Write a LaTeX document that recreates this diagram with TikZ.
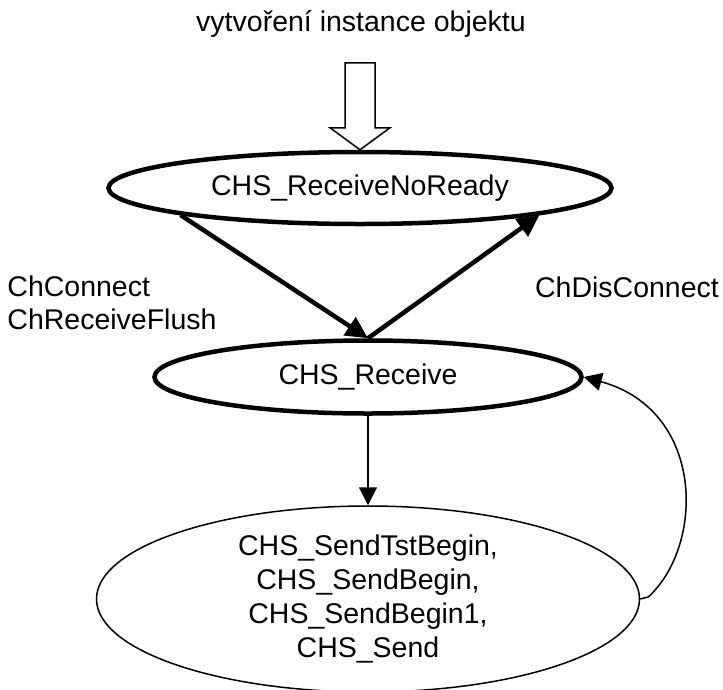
\documentclass[tikz,border=0pt]{standalone}
\usepackage{fontspec}
\setmainfont{Liberation Sans}
\usetikzlibrary{shapes.geometric,arrows.meta}

\begin{document}
\begin{tikzpicture}[x=1pt, y=-1pt,
        every node/.style={font=\fontsize{28.5}{33}\selectfont, inner sep=0pt},
        boldstate/.style={ellipse, draw, line width=4.5pt},
        thinstate/.style={ellipse, draw, line width=1.5pt},
        boldarrow/.style={line width=4.5pt, -{Triangle[length=22pt,width=21pt]}},
        thinarrow/.style={line width=1.5pt, -{Triangle[length=18pt,width=18pt]}}]
        \useasboundingbox (0,0) rectangle (723,689);
        \node (title) at (361,24) {vytvoření instance objektu};
        \node[boldstate, minimum width=503pt, minimum height=72pt] (noready) at (360,188) {CHS\_ReceiveNoReady};
        \node[boldstate, minimum width=427pt, minimum height=73pt] (receive) at (368,377) {CHS\_Receive};
        \node[thinstate, minimum width=543pt, minimum height=186pt, align=center,
            font=\fontsize{28.5}{34}\selectfont] (send) at (368,599)
            {CHS\_SendTstBegin,\\CHS\_SendBegin,\\CHS\_SendBegin1,\\CHS\_Send};
        \node[align=left] (connect) at (112,303) {ChConnect\\ChReceiveFlush};
        \node (disconnect) at (627,287) {ChDisConnect};
        \draw[line width=1.5pt, fill=white] (noready.north) -- ++(30,-22) -- ++(-15,0) -- ++(0,-65)
            -- ++(-30,0) -- ++(0,65) -- ++(-15,0) -- cycle;
        \draw[boldarrow] (noready.south west) -- (receive.north);
        \draw[boldarrow] (receive.north) -- (noready.south east);
        \draw[thinarrow] (receive.south) -- (send.north);
        \draw[thinarrow] (send.east) -- ++(8,-2) .. controls (705,545) and (705,410) .. (receive.east);
    \end{tikzpicture}
\end{document}
